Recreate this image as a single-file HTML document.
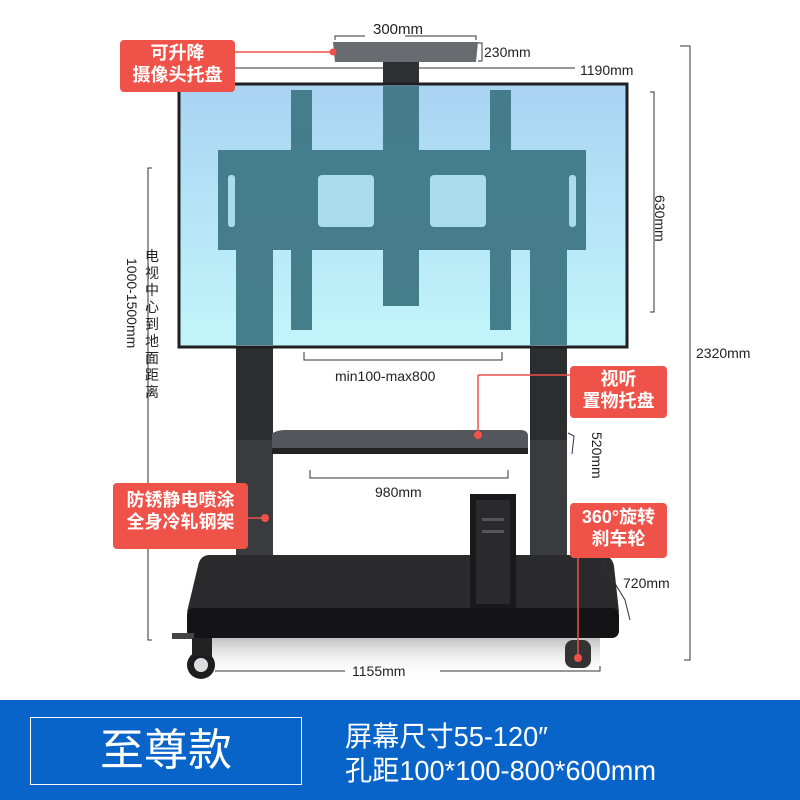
<!DOCTYPE html>
<html><head><meta charset="utf-8"><style>
body{margin:0;width:800px;height:800px;background:#fff;position:relative;overflow:hidden;font-family:"Liberation Sans","Noto Sans CJK SC",sans-serif}
.a{position:absolute}
.lbl{position:absolute;background:#ee5248;color:#fff;border-radius:4px;text-align:center;font-size:18px;line-height:22px;font-weight:bold}
.t{position:absolute;font-size:14px;color:#222;white-space:nowrap}
</style></head><body>
<svg class="a" style="left:0;top:0" width="800" height="700">
<defs>
<linearGradient id="scr" x1="0" y1="0" x2="0" y2="1"><stop offset="0" stop-color="#a9d3f2"/><stop offset="1" stop-color="#c2f6fb"/></linearGradient>
<linearGradient id="sh" x1="0" y1="0" x2="0" y2="1"><stop offset="0" stop-color="#999"/><stop offset="1" stop-color="#fff" stop-opacity="0"/></linearGradient>
</defs>
<rect x="200" y="638" width="400" height="40" fill="url(#sh)" opacity="0.6"/>
<rect x="236" y="347" width="37" height="250" fill="#2c2d30"/>
<rect x="530" y="347" width="37" height="250" fill="#2c2d30"/>
<rect x="236" y="440" width="37" height="155" fill="#3a3b3f"/>
<rect x="530" y="440" width="37" height="155" fill="#3a3b3f"/>
<path d="M272 434 Q276 430 285 430 L520 430 Q528 430 528 436 L528 452 L272 452 Z" fill="#55565b"/>
<rect x="272" y="448" width="256" height="6" fill="#222"/>
<path d="M210 555 L600 555 Q612 555 614 566 L619 612 L187 612 L198 566 Q200 555 210 555Z" fill="#2b2b2e"/>
<rect x="187" y="608" width="432" height="30" rx="7" fill="#141416"/>
<rect x="470" y="494" width="46" height="114" fill="#1a1a1c"/>
<rect x="476" y="500" width="34" height="104" fill="#2a2a2d"/>
<rect x="482" y="518" width="22" height="3" fill="#555"/><rect x="482" y="530" width="22" height="3" fill="#555"/>
<circle cx="201" cy="665" r="14" fill="#1d1d1f"/><circle cx="201" cy="665" r="7" fill="#ddd"/>
<rect x="172" y="633" width="22" height="6" fill="#444"/>
<rect x="192" y="638" width="20" height="18" fill="#222"/>
<rect x="565" y="640" width="26" height="28" rx="8" fill="#333"/>
<rect x="383" y="45" width="36" height="40" fill="#2e2f33"/>
<path d="M333 42 L478 42 L476 62 L335 62 Z" fill="#6a6b70"/>
<rect x="179" y="84" width="448" height="263" fill="url(#scr)" stroke="#1f1f22" stroke-width="3"/>
<g fill="#3f7886" opacity="0.95">
<rect x="383" y="86" width="36" height="220"/>
<rect x="236" y="250" width="37" height="95"/>
<rect x="530" y="250" width="37" height="95"/>
<rect x="218" y="150" width="368" height="100"/>
<rect x="291" y="90" width="21" height="240"/>
<rect x="490" y="90" width="21" height="240"/>
</g>
<g fill="#a9dcec">
<rect x="318" y="175" width="56" height="52" rx="4"/>
<rect x="430" y="175" width="56" height="52" rx="4"/>
<rect x="228" y="175" width="7" height="52" rx="3"/>
<rect x="569" y="175" width="7" height="52" rx="3"/>
</g>
<g stroke="#333" stroke-width="1" fill="none">
<path d="M335 40 V36 H365 M405 36 H476 V40"/>
<path d="M478 43 H482 V61 H478"/>
<path d="M235 68 H575"/>
<path d="M680 46 H690 V660 H684"/>
<path d="M650 92 H654 V312 H650"/>
<path d="M152 168 H148 V640 H152"/>
<path d="M304 352 V360 H502 V352"/>
<path d="M310 470 V478 H508 V470"/>
<path d="M568 433 L574 436 L572 454"/>
<path d="M602 562 L625 600 L630 620"/>
<path d="M215 671 H345 M440 671 H600 V666"/>
</g>
<g stroke="#ee5248" stroke-width="1.5" fill="none">
<path d="M235 52 H333"/><path d="M478 375 V435"/><path d="M478 375 H570"/>
<path d="M248 518 H265"/><path d="M578 557 V660"/>
</g>
<g fill="#ee5248"><circle cx="333" cy="52" r="3.5"/><circle cx="478" cy="435" r="4"/><circle cx="265" cy="518" r="4"/><circle cx="578" cy="658" r="4"/></g>
</svg>
<div class="t" style="left:373px;top:21px;font-size:15px">300mm</div>
<div class="t" style="left:484px;top:44px">230mm</div>
<div class="t" style="left:580px;top:62px">1190mm</div>
<div class="t" style="left:696px;top:345px">2320mm</div>
<div class="t" style="left:668px;top:195px;transform:rotate(90deg);transform-origin:left top">630mm</div>
<div class="t" style="left:335px;top:368px">min100-max800</div>
<div class="t" style="left:375px;top:484px">980mm</div>
<div class="t" style="left:605px;top:432px;transform:rotate(90deg);transform-origin:left top">520mm</div>
<div class="t" style="left:623px;top:575px">720mm</div>
<div class="t" style="left:352px;top:663px">1155mm</div>
<div class="t" style="left:140px;top:258px;transform:rotate(90deg);transform-origin:left top;font-size:14px">1000-1500mm</div>
<div class="t" style="left:145px;top:248px;width:16px;white-space:normal;line-height:17px;font-size:14px">电视中心到地面距离</div>
<div class="lbl" style="left:120px;top:40px;width:115px;height:50px;padding-top:2px">可升降<br>摄像头托盘</div>
<div class="lbl" style="left:570px;top:366px;width:97px;height:50px;padding-top:2px">视听<br>置物托盘</div>
<div class="lbl" style="left:113px;top:483px;width:135px;height:60px;padding-top:6px">防锈静电喷涂<br>全身冷轧钢架</div>
<div class="lbl" style="left:570px;top:503px;width:97px;height:52px;padding-top:3px">360°旋转<br>刹车轮</div>
<div class="a" style="left:0;top:700px;width:800px;height:100px;background:#0864c8"></div>
<div class="a" style="left:30px;top:717px;width:270px;height:66px;border:1.5px solid #fff;color:#fff;font-size:44px;line-height:66px;text-align:center">至尊款</div>
<div class="a" style="left:345px;top:720px;color:#fff;font-size:28px;line-height:34px;white-space:nowrap;transform:scaleX(0.97);transform-origin:left top">屏幕尺寸55-120″<br>孔距100*100-800*600mm</div>
</body></html>
